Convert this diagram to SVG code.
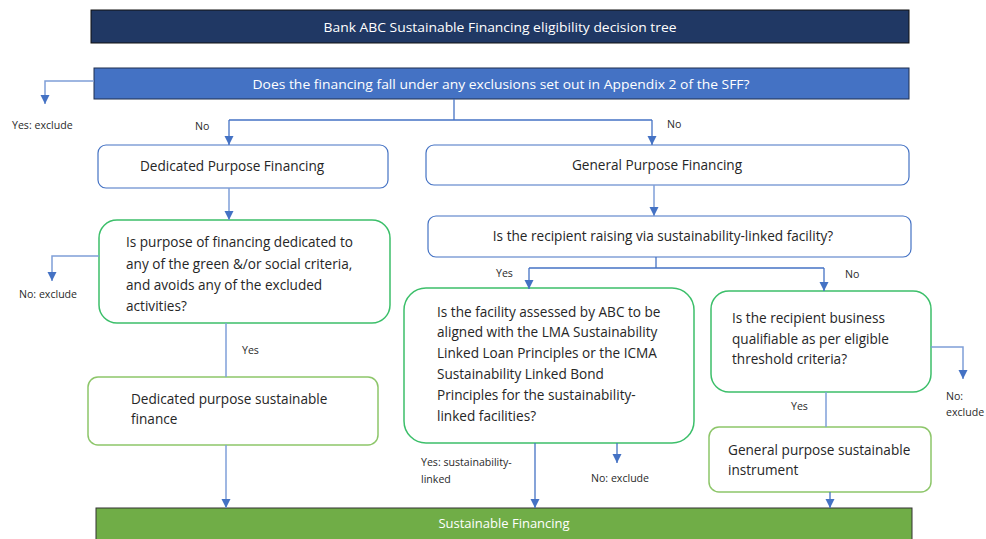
<svg xmlns="http://www.w3.org/2000/svg" width="986" height="539" viewBox="0 0 986 539">
<style>
text{font-family:"Open Sans","Noto Sans","Liberation Sans",sans-serif;fill:#262626}
.t{font-size:13.6px}
.s{font-size:10.6px;fill:#2a2a2a}
.w{fill:#ffffff}
.blue{fill:#fff;stroke:#4472C4;stroke-width:1.2}
.green{fill:#fff;stroke:#3CBF6A;stroke-width:1.5}
.lgreen{fill:#fff;stroke:#8DC66A;stroke-width:1.5}
.c{fill:none;stroke:#4472C4;stroke-width:1.3}
.c2{fill:none;stroke:#7F9FD8;stroke-width:1.5}
</style>
<defs>
<marker id="ah" markerWidth="10" markerHeight="10" refX="9" refY="5" orient="auto" markerUnits="userSpaceOnUse" viewBox="0 0 10 10">
<path d="M0,0.5 L9,5 L0,9.5 Z" fill="#4472C4"/>
</marker>
</defs>
<rect width="986" height="539" fill="#fff"/>

<g id="title">
<rect x="91" y="10" width="818" height="33" fill="#203864" stroke="#111" stroke-width="1"/>
<text class="w" x="500" y="31.5" text-anchor="middle" font-size="13" textLength="353" lengthAdjust="spacingAndGlyphs">Bank ABC Sustainable Financing eligibility decision tree</text>
</g>

<g id="q-exclusions">
<rect x="94" y="68" width="815" height="31" fill="#4472C4" stroke="#1F2F4F" stroke-width="1"/>
<text class="w" x="501" y="89" text-anchor="middle" font-size="13" textLength="497" lengthAdjust="spacingAndGlyphs">Does the financing fall under any exclusions set out in Appendix 2 of the SFF?</text>
</g>

<g id="dedicated-financing">
<rect class="blue" x="98" y="145" width="290" height="43" rx="8"/>
<text class="t" x="140" y="171">Dedicated Purpose Financing</text>
</g>

<g id="general-financing">
<rect class="blue" x="426" y="145" width="483" height="40" rx="8"/>
<text class="t" x="657" y="170" text-anchor="middle">General Purpose Financing</text>
</g>

<g id="q-sustainability-linked">
<rect class="blue" x="428" y="216" width="483" height="41" rx="8"/>
<text class="t" x="663" y="241" text-anchor="middle">Is the recipient raising via sustainability-linked facility?</text>
</g>

<g id="q-dedicated">
<rect class="green" x="99" y="220" width="291" height="103" rx="18"/>
<text class="t" x="126" y="247">Is purpose of financing dedicated to</text>
<text class="t" x="126" y="269">any of the green &amp;/or social criteria,</text>
<text class="t" x="126" y="290">and avoids any of the excluded</text>
<text class="t" x="126" y="311">activities?</text>
</g>

<g id="dedicated-sustainable">
<rect class="lgreen" x="88" y="377" width="290" height="68" rx="10"/>
<text class="t" x="131" y="404">Dedicated purpose sustainable</text>
<text class="t" x="131" y="424">finance</text>
</g>

<g id="q-lma">
<rect class="green" x="404" y="288" width="290" height="155" rx="22"/>
<text class="t" x="437" y="317">Is the facility assessed by ABC to be</text>
<text class="t" x="437" y="337">aligned with the LMA Sustainability</text>
<text class="t" x="437" y="358">Linked Loan Principles or the ICMA</text>
<text class="t" x="437" y="379">Sustainability Linked Bond</text>
<text class="t" x="437" y="400">Principles for the sustainability-</text>
<text class="t" x="437" y="421">linked facilities?</text>
</g>

<g id="q-threshold">
<rect class="green" x="711" y="291" width="220" height="101" rx="18"/>
<text class="t" x="732" y="323">Is the recipient business</text>
<text class="t" x="732" y="344">qualifiable as per eligible</text>
<text class="t" x="732" y="364">threshold criteria?</text>
</g>

<g id="general-sustainable">
<rect class="lgreen" x="709" y="427" width="222" height="65" rx="10"/>
<text class="t" x="728" y="455">General purpose sustainable</text>
<text class="t" x="728" y="475">instrument</text>
</g>

<g id="sustainable-financing">
<rect x="96" y="508" width="816" height="40" fill="#70AD47" stroke="#333" stroke-width="1"/>
<text class="w" x="504" y="528" text-anchor="middle" font-size="13">Sustainable Financing</text>
</g>

<g id="connectors">
<path class="c2" d="M94,81 H45 V104" marker-end="url(#ah)"/>
<path class="c" d="M454,99 V120"/>
<path class="c" d="M229,120 H652"/>
<path class="c" d="M229,120 V145" marker-end="url(#ah)"/>
<path class="c" d="M652,120 V145" marker-end="url(#ah)"/>
<path class="c2" d="M229,188 V220" marker-end="url(#ah)"/>
<path class="c2" d="M654,185 V216" marker-end="url(#ah)"/>
<path class="c2" d="M99,256 H52 V281" marker-end="url(#ah)"/>
<path class="c" d="M656,257 V268"/>
<path class="c" d="M529,268 H824"/>
<path class="c" d="M529,268 V289" marker-end="url(#ah)"/>
<path class="c" d="M824,268 V291" marker-end="url(#ah)"/>
<path class="c2" d="M226,323 V377"/>
<path class="c2" d="M226,445 V508" marker-end="url(#ah)"/>
<path class="c" d="M535,443 V508" marker-end="url(#ah)"/>
<path class="c" d="M617,443 V463" marker-end="url(#ah)"/>
<path class="c2" d="M931,347 H963 V379" marker-end="url(#ah)"/>
<path class="c2" d="M826,392 V427"/>
<path class="c" d="M830,492 V508" marker-end="url(#ah)"/>
</g>

<g id="labels">
<text class="s" x="12" y="129">Yes: exclude</text>
<text class="s" x="195" y="130">No</text>
<text class="s" x="667" y="128">No</text>
<text class="s" x="19" y="298">No: exclude</text>
<text class="s" x="496" y="277">Yes</text>
<text class="s" x="845" y="278">No</text>
<text class="s" x="242" y="354">Yes</text>
<text class="s" x="421" y="466">Yes: sustainability-</text>
<text class="s" x="421" y="483">linked</text>
<text class="s" x="591" y="482">No: exclude</text>
<text class="s" x="946" y="400">No:</text>
<text class="s" x="946" y="416">exclude</text>
<text class="s" x="791" y="410">Yes</text>
</g>
</svg>
